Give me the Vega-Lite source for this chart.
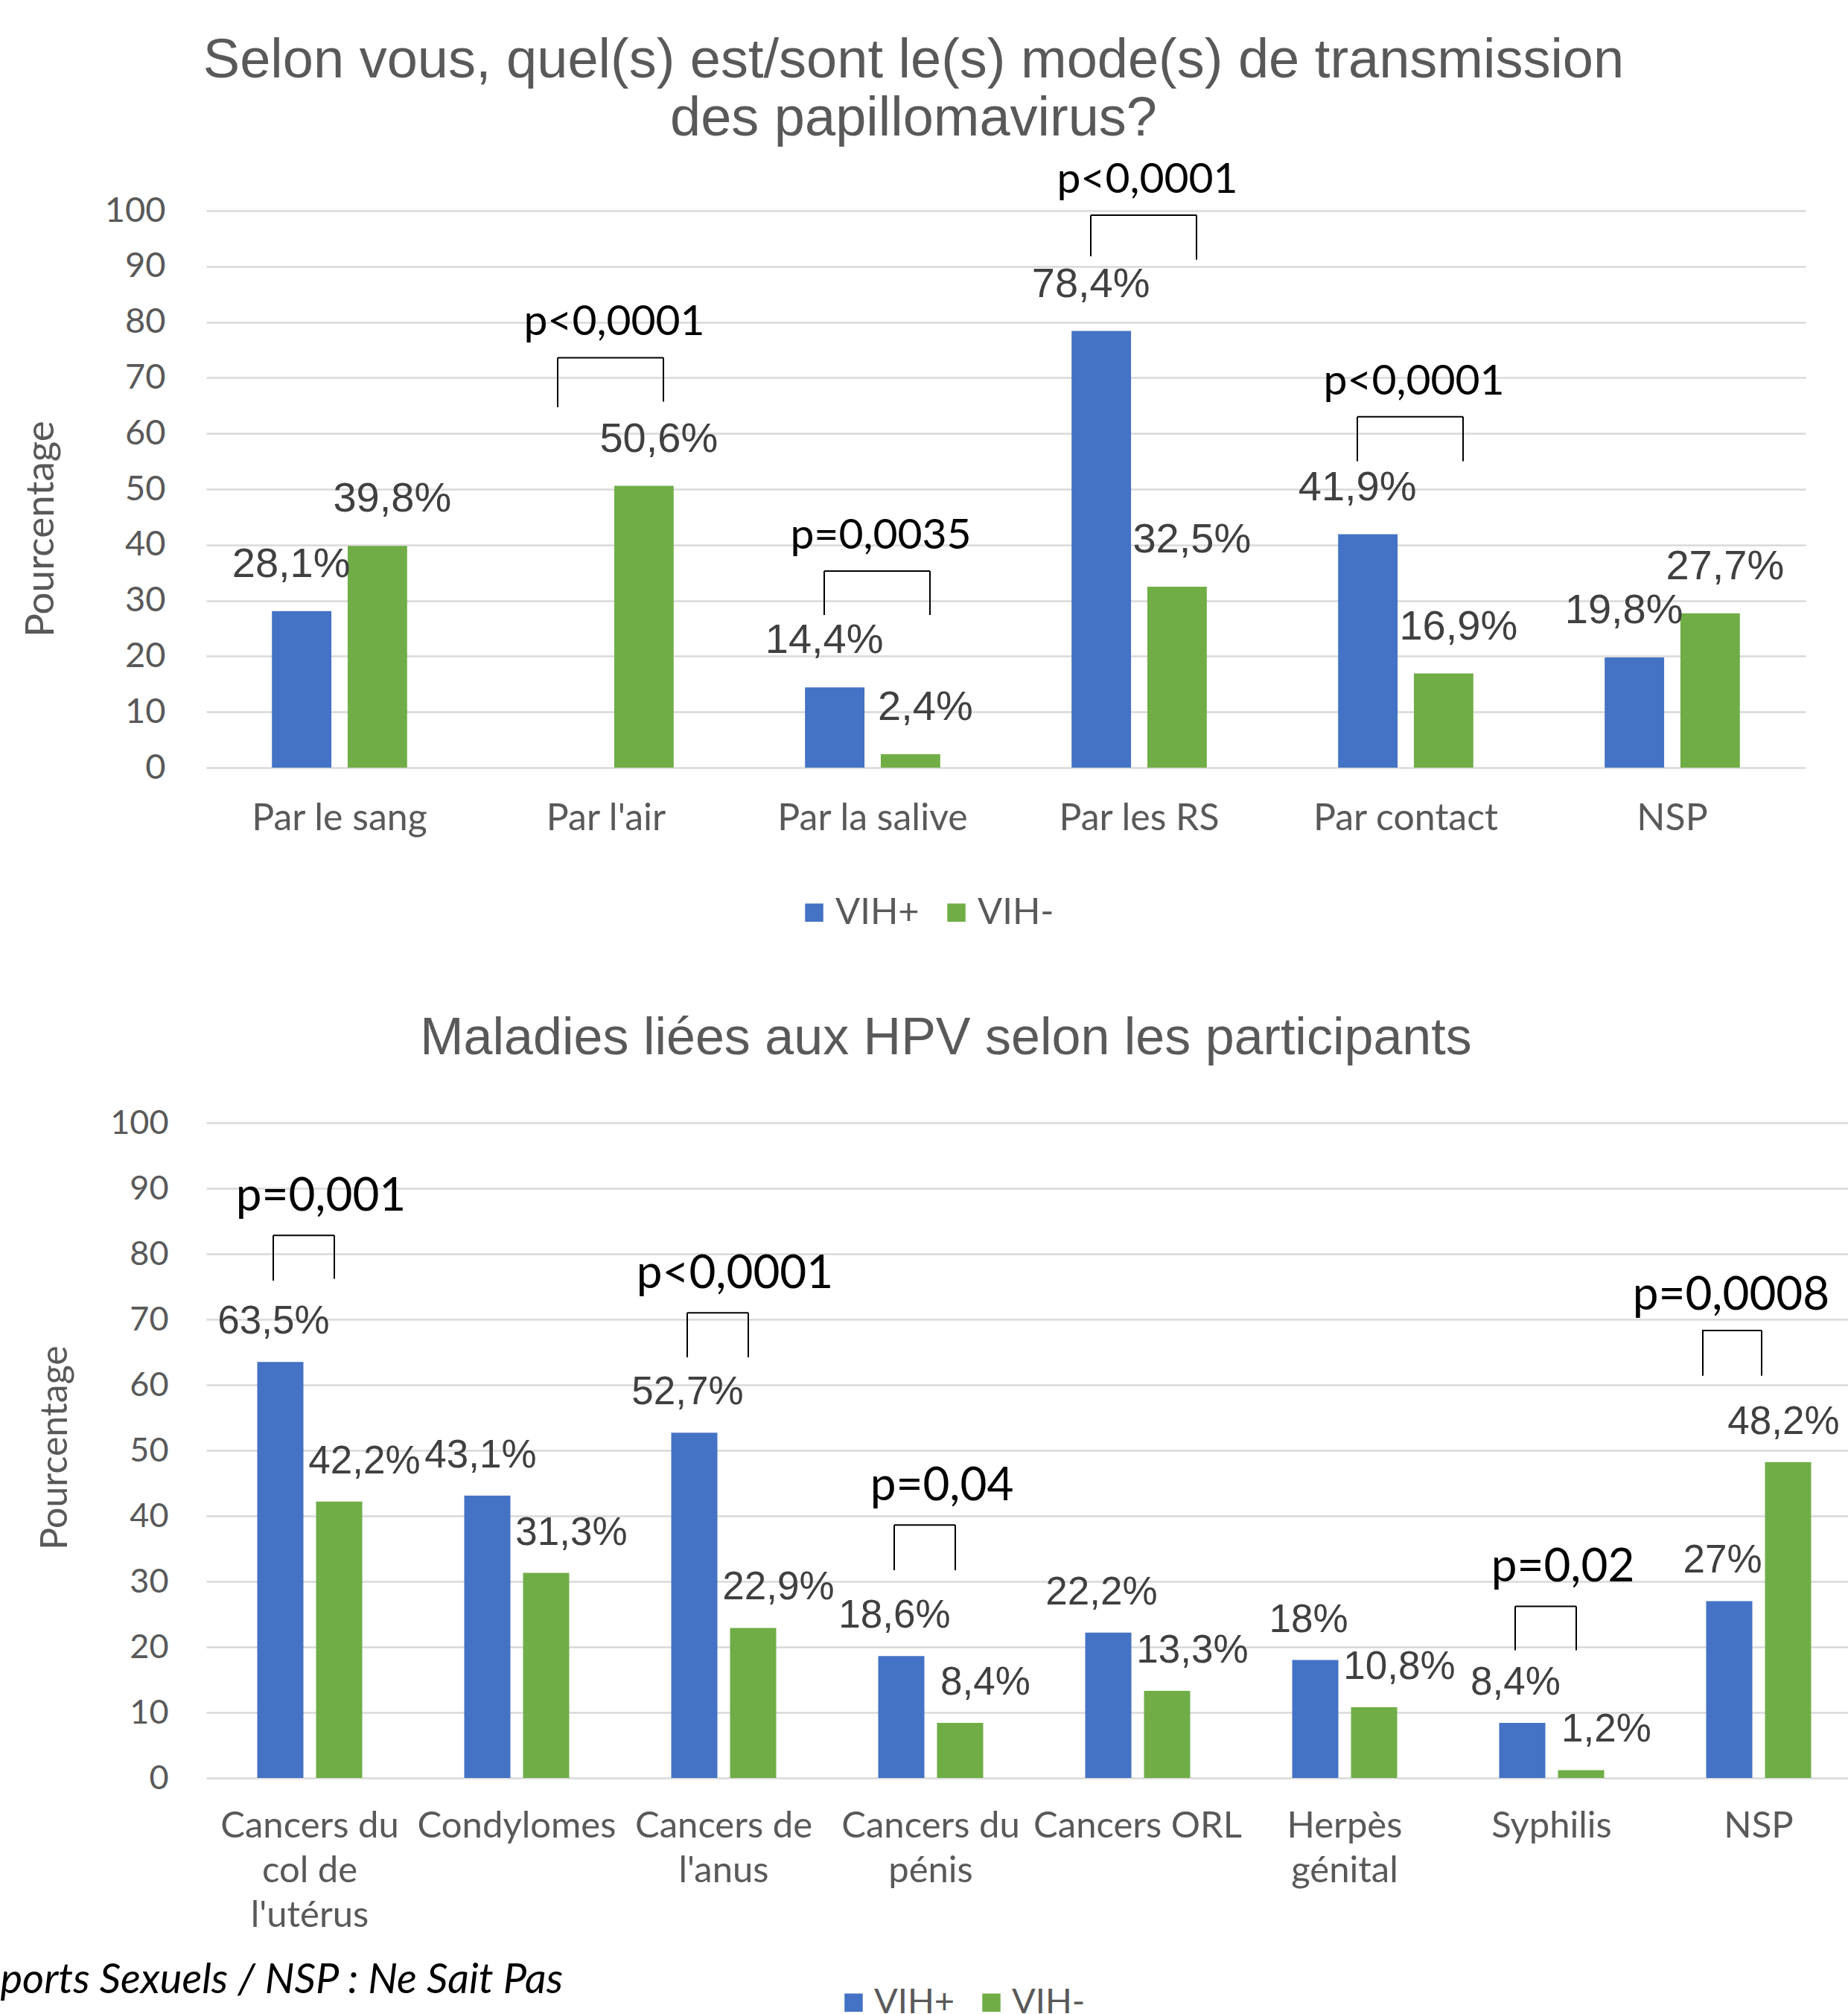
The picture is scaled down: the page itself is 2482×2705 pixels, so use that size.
{
  "$schema": "https://vega.github.io/schema/vega-lite/v6.json",
  "background": "white",
  "padding": {"left": 0, "top": 44, "right": 0, "bottom": 0},
  "bounds": "flush",
  "spacing": 477,
  "config": {
    "view": {"stroke": null},
    "axis": {"ticks": false, "domain": false, "labelColor": "#595959", "titleColor": "#595959", "labelFont": "Lato", "titleFont": "Lato", "titleFontWeight": "normal", "gridColor": "#D9D9D9", "gridWidth": 2.5}
  },
  "resolve": {"scale": {"color": "independent", "xOffset": "independent"}, "legend": {"color": "independent"}},
  "vconcat": [
    {
      "width": 2148,
      "height": 748,
      "title": {"text": ["Selon vous, quel(s) est/sont le(s) mode(s) de transmission", "des papillomavirus?"], "font": "Liberation Sans", "fontSize": 74, "fontWeight": "normal", "color": "#595959", "lineHeight": 78, "anchor": "middle", "frame": "bounds", "offset": 15},
      "data": {"values": [
        {"category": "Par le sang", "group": "VIH+", "value": 28.1, "label": "28,1%"},
        {"category": "Par le sang", "group": "VIH-", "value": 39.8, "label": "39,8%"},
        {"category": "Par l'air", "group": "VIH-", "value": 50.6, "label": "50,6%"},
        {"category": "Par la salive", "group": "VIH+", "value": 14.4, "label": "14,4%"},
        {"category": "Par la salive", "group": "VIH-", "value": 2.4, "label": "2,4%"},
        {"category": "Par les RS", "group": "VIH+", "value": 78.4, "label": "78,4%"},
        {"category": "Par les RS", "group": "VIH-", "value": 32.5, "label": "32,5%"},
        {"category": "Par contact", "group": "VIH+", "value": 41.9, "label": "41,9%"},
        {"category": "Par contact", "group": "VIH-", "value": 16.9, "label": "16,9%"},
        {"category": "NSP", "group": "VIH+", "value": 19.8, "label": "19,8%"},
        {"category": "NSP", "group": "VIH-", "value": 27.7, "label": "27,7%"}
      ]},
      "encoding": {
        "x": {"field": "category", "type": "nominal", "bandPosition": 0.5,
          "scale": {"domain": ["Par le sang", "Par l'air", "Par la salive", "Par les RS", "Par contact", "NSP"], "paddingInner": 0, "paddingOuter": 0},
          "axis": {"title": null, "labelAngle": 0, "labelFontSize": 50, "labelPadding": 43, "grid": false, "labelLimit": 0, "labelOverlap": false}}
      },
      "layer": [
        {
          "mark": {"type": "bar"},
          "encoding": {
            "xOffset": {"field": "group", "type": "nominal", "scale": {"domain": ["VIH+", "VIH-"], "paddingInner": 0.215, "paddingOuter": 0.867}},
            "y": {"field": "value", "type": "quantitative", "scale": {"domain": [0, 100]},
              "axis": {"title": "Pourcentage", "values": [0, 10, 20, 30, 40, 50, 60, 70, 80, 90, 100], "grid": true, "labelFontSize": 47, "labelPadding": 55, "titleFontSize": 53, "titleX": -222, "titleY": 427, "titleAngle": -90, "titleBaseline": "middle", "titleAlign": "center"}},
            "color": {"field": "group", "type": "nominal", "scale": {"domain": ["VIH+", "VIH-"], "range": ["#4472C4", "#70AD47"]},
              "legend": {"orient": "none", "legendX": 792, "legendY": 918, "direction": "horizontal", "title": null, "symbolType": "square", "symbolSize": 600, "symbolStrokeWidth": 0, "labelFont": "Lato", "labelFontSize": 49, "labelColor": "#595959", "labelOffset": 4, "columnPadding": 25, "padding": 0}}
          }
        },
        {
          "transform": [{"filter": "datum.group === 'VIH+'"}],
          "mark": {"type": "text", "baseline": "alphabetic", "dy": -46, "dx": -14, "font": "Liberation Sans", "fontSize": 56, "color": "#404040"},
          "encoding": {
            "xOffset": {"field": "group", "type": "nominal", "scale": {"domain": ["VIH+", "VIH-"], "paddingInner": 0.215, "paddingOuter": 0.867}},
            "y": {"field": "value", "type": "quantitative", "scale": {"domain": [0, 100]}},
            "text": {"field": "label"}
          }
        },
        {
          "transform": [{"filter": "datum.group === 'VIH-'"}],
          "mark": {"type": "text", "baseline": "alphabetic", "dy": -46, "dx": 20, "font": "Liberation Sans", "fontSize": 56, "color": "#404040"},
          "encoding": {
            "xOffset": {"field": "group", "type": "nominal", "scale": {"domain": ["VIH+", "VIH-"], "paddingInner": 0.215, "paddingOuter": 0.867}},
            "y": {"field": "value", "type": "quantitative", "scale": {"domain": [0, 100]}},
            "text": {"field": "label"}
          }
        },
        {
          "data": {"name": "pTop", "values": [
            {"category": "Par l'air", "p": "p<0,0001", "top": 73.6, "left_end": 64.7, "right_end": 65.7},
            {"category": "Par la salive", "p": "p=0,0035", "top": 35.3, "left_end": 27.4, "right_end": 27.4},
            {"category": "Par les RS", "p": "p<0,0001", "top": 99.2, "left_end": 91.8, "right_end": 91.2},
            {"category": "Par contact", "p": "p<0,0001", "top": 63.0, "left_end": 55.0, "right_end": 55.0}
          ]},
          "mark": {"type": "tick", "orient": "horizontal", "size": 142, "thickness": 2, "xOffset": 6, "color": "black", "opacity": 1},
          "encoding": {"y": {"field": "top", "type": "quantitative", "scale": {"domain": [0, 100]}}}
        },
        {
          "data": {"name": "pTop"},
          "mark": {"type": "rule", "xOffset": -65, "color": "black", "strokeWidth": 2},
          "encoding": {"y": {"field": "top", "type": "quantitative", "scale": {"domain": [0, 100]}}, "y2": {"field": "left_end"}}
        },
        {
          "data": {"name": "pTop"},
          "mark": {"type": "rule", "xOffset": 77, "color": "black", "strokeWidth": 2},
          "encoding": {"y": {"field": "top", "type": "quantitative", "scale": {"domain": [0, 100]}}, "y2": {"field": "right_end"}}
        },
        {
          "data": {"name": "pTop"},
          "mark": {"type": "text", "baseline": "alphabetic", "dx": 11, "dy": -30, "font": "Lato", "fontSize": 57, "color": "black"},
          "encoding": {"y": {"field": "top", "type": "quantitative", "scale": {"domain": [0, 100]}}, "text": {"field": "p"}}
        }
      ]
    },
    {
      "width": 2224,
      "height": 880,
      "title": {"text": "Maladies liées aux HPV selon les participants", "font": "Liberation Sans", "fontSize": 70, "fontWeight": "normal", "color": "#595959", "anchor": "middle", "frame": "bounds", "offset": 55, "dx": 20},
      "data": {"values": [
        {"category": "Cancers du col de l'utérus", "group": "VIH+", "value": 63.5, "label": "63,5%"},
        {"category": "Cancers du col de l'utérus", "group": "VIH-", "value": 42.2, "label": "42,2%"},
        {"category": "Condylomes", "group": "VIH+", "value": 43.1, "label": "43,1%"},
        {"category": "Condylomes", "group": "VIH-", "value": 31.3, "label": "31,3%"},
        {"category": "Cancers de l'anus", "group": "VIH+", "value": 52.7, "label": "52,7%"},
        {"category": "Cancers de l'anus", "group": "VIH-", "value": 22.9, "label": "22,9%"},
        {"category": "Cancers du pénis", "group": "VIH+", "value": 18.6, "label": "18,6%"},
        {"category": "Cancers du pénis", "group": "VIH-", "value": 8.4, "label": "8,4%"},
        {"category": "Cancers ORL", "group": "VIH+", "value": 22.2, "label": "22,2%"},
        {"category": "Cancers ORL", "group": "VIH-", "value": 13.3, "label": "13,3%"},
        {"category": "Herpès génital", "group": "VIH+", "value": 18, "label": "18%"},
        {"category": "Herpès génital", "group": "VIH-", "value": 10.8, "label": "10,8%"},
        {"category": "Syphilis", "group": "VIH+", "value": 8.4, "label": "8,4%"},
        {"category": "Syphilis", "group": "VIH-", "value": 1.2, "label": "1,2%"},
        {"category": "NSP", "group": "VIH+", "value": 27, "label": "27%"},
        {"category": "NSP", "group": "VIH-", "value": 48.2, "label": "48,2%"}
      ]},
      "encoding": {
        "x": {"field": "category", "type": "nominal", "bandPosition": 0.5,
          "scale": {"domain": ["Cancers du col de l'utérus", "Condylomes", "Cancers de l'anus", "Cancers du pénis", "Cancers ORL", "Herpès génital", "Syphilis", "NSP"], "paddingInner": 0, "paddingOuter": 0},
          "axis": {"title": "ports Sexuels / NSP : Ne Sait Pas", "titleX": -277, "titleY": 288, "titleAlign": "left", "titleBaseline": "alphabetic", "titleAngle": 0, "titleFont": "Lato", "titleFontStyle": "italic", "titleFontSize": 56, "titleColor": "black",
            "labelAngle": 0, "labelFontSize": 49, "labelPadding": 40, "labelLineHeight": 60, "grid": false, "labelLimit": 0, "labelOverlap": false,
            "labelExpr": "datum.value == \"Cancers du col de l'utérus\" ? ['Cancers du', 'col de', \"l'utérus\"] : datum.value == \"Cancers de l'anus\" ? ['Cancers de', \"l'anus\"] : datum.value == 'Cancers du pénis' ? ['Cancers du', 'pénis'] : datum.value == 'Herpès génital' ? ['Herpès', 'génital'] : datum.label"}}
      },
      "layer": [
        {
          "mark": {"type": "bar"},
          "encoding": {
            "xOffset": {"field": "group", "type": "nominal", "scale": {"domain": ["VIH+", "VIH-"], "paddingInner": 0.215, "paddingOuter": 0.867}},
            "y": {"field": "value", "type": "quantitative", "scale": {"domain": [0, 100]},
              "axis": {"title": "Pourcentage", "values": [0, 10, 20, 30, 40, 50, 60, 70, 80, 90, 100], "grid": true, "labelFontSize": 45, "labelPadding": 51, "titleFontSize": 50, "titleX": -203, "titleY": 436, "titleAngle": -90, "titleBaseline": "middle", "titleAlign": "center"}},
            "color": {"field": "group", "type": "nominal", "scale": {"domain": ["VIH+", "VIH-"], "range": ["#4472C4", "#70AD47"]},
              "legend": {"orient": "none", "legendX": 846, "legendY": 1158, "direction": "horizontal", "title": null, "symbolType": "square", "symbolSize": 600, "symbolStrokeWidth": 0, "labelFont": "Lato", "labelFontSize": 47, "labelColor": "#595959", "labelOffset": 4, "columnPadding": 25, "padding": 0}}
          }
        },
        {
          "transform": [{"filter": "datum.group === 'VIH+'"}],
          "mark": {"type": "text", "baseline": "alphabetic", "dy": -38, "dx": -9, "font": "Liberation Sans", "fontSize": 53, "color": "#404040"},
          "encoding": {
            "xOffset": {"field": "group", "type": "nominal", "scale": {"domain": ["VIH+", "VIH-"], "paddingInner": 0.215, "paddingOuter": 0.867}},
            "y": {"field": "value", "type": "quantitative", "scale": {"domain": [0, 100]}},
            "text": {"field": "label"}
          }
        },
        {
          "transform": [{"filter": "datum.group === 'VIH-' && datum.category !== 'NSP'"}],
          "mark": {"type": "text", "baseline": "alphabetic", "dy": -38, "dx": 34, "font": "Liberation Sans", "fontSize": 53, "color": "#404040"},
          "encoding": {
            "xOffset": {"field": "group", "type": "nominal", "scale": {"domain": ["VIH+", "VIH-"], "paddingInner": 0.215, "paddingOuter": 0.867}},
            "y": {"field": "value", "type": "quantitative", "scale": {"domain": [0, 100]}},
            "text": {"field": "label"}
          }
        },
        {
          "transform": [{"filter": "datum.group === 'VIH-' && datum.category === 'NSP'"}],
          "mark": {"type": "text", "baseline": "alphabetic", "dy": -38, "dx": -6, "font": "Liberation Sans", "fontSize": 53, "color": "#404040"},
          "encoding": {
            "xOffset": {"field": "group", "type": "nominal", "scale": {"domain": ["VIH+", "VIH-"], "paddingInner": 0.215, "paddingOuter": 0.867}},
            "y": {"field": "value", "type": "quantitative", "scale": {"domain": [0, 100]}},
            "text": {"field": "label"}
          }
        },
        {
          "data": {"name": "pBottom", "values": [
            {"category": "Cancers du col de l'utérus", "p": "p=0,001", "top": 82.8, "left_end": 75.9, "right_end": 76.2},
            {"category": "Cancers de l'anus", "p": "p<0,0001", "top": 71.0, "left_end": 64.2, "right_end": 64.2},
            {"category": "Cancers du pénis", "p": "p=0,04", "top": 38.6, "left_end": 31.7, "right_end": 31.7},
            {"category": "Syphilis", "p": "p=0,02", "top": 26.2, "left_end": 19.5, "right_end": 19.5},
            {"category": "NSP", "p": "p=0,0008", "top": 68.3, "left_end": 61.4, "right_end": 61.4}
          ]},
          "transform": [{"filter": "datum.category !== 'NSP'"}],
          "mark": {"type": "tick", "orient": "horizontal", "size": 82, "thickness": 2, "xOffset": -8, "color": "black", "opacity": 1},
          "encoding": {"y": {"field": "top", "type": "quantitative", "scale": {"domain": [0, 100]}}}
        },
        {
          "data": {"name": "pBottom"},
          "transform": [{"filter": "datum.category !== 'NSP'"}],
          "mark": {"type": "rule", "xOffset": -49, "color": "black", "strokeWidth": 2},
          "encoding": {"y": {"field": "top", "type": "quantitative", "scale": {"domain": [0, 100]}}, "y2": {"field": "left_end"}}
        },
        {
          "data": {"name": "pBottom"},
          "transform": [{"filter": "datum.category !== 'NSP'"}],
          "mark": {"type": "rule", "xOffset": 33, "color": "black", "strokeWidth": 2},
          "encoding": {"y": {"field": "top", "type": "quantitative", "scale": {"domain": [0, 100]}}, "y2": {"field": "right_end"}}
        },
        {
          "data": {"name": "pBottom"},
          "transform": [{"filter": "datum.category !== 'NSP'"}],
          "mark": {"type": "text", "baseline": "alphabetic", "dx": 15, "dy": -33, "font": "Lato", "fontSize": 62, "color": "black"},
          "encoding": {"y": {"field": "top", "type": "quantitative", "scale": {"domain": [0, 100]}}, "text": {"field": "p"}}
        },
        {
          "data": {"name": "pBottom"},
          "transform": [{"filter": "datum.category === 'NSP'"}],
          "mark": {"type": "tick", "orient": "horizontal", "size": 80, "thickness": 2, "xOffset": -36, "color": "black", "opacity": 1},
          "encoding": {"y": {"field": "top", "type": "quantitative", "scale": {"domain": [0, 100]}}}
        },
        {
          "data": {"name": "pBottom"},
          "transform": [{"filter": "datum.category === 'NSP'"}],
          "mark": {"type": "rule", "xOffset": -75, "color": "black", "strokeWidth": 2},
          "encoding": {"y": {"field": "top", "type": "quantitative", "scale": {"domain": [0, 100]}}, "y2": {"field": "left_end"}}
        },
        {
          "data": {"name": "pBottom"},
          "transform": [{"filter": "datum.category === 'NSP'"}],
          "mark": {"type": "rule", "xOffset": 4, "color": "black", "strokeWidth": 2},
          "encoding": {"y": {"field": "top", "type": "quantitative", "scale": {"domain": [0, 100]}}, "y2": {"field": "right_end"}}
        },
        {
          "data": {"name": "pBottom"},
          "transform": [{"filter": "datum.category === 'NSP'"}],
          "mark": {"type": "text", "baseline": "alphabetic", "dx": -37, "dy": -28, "font": "Lato", "fontSize": 62, "color": "black"},
          "encoding": {"y": {"field": "top", "type": "quantitative", "scale": {"domain": [0, 100]}}, "text": {"field": "p"}}
        }
      ]
    }
  ]
}
